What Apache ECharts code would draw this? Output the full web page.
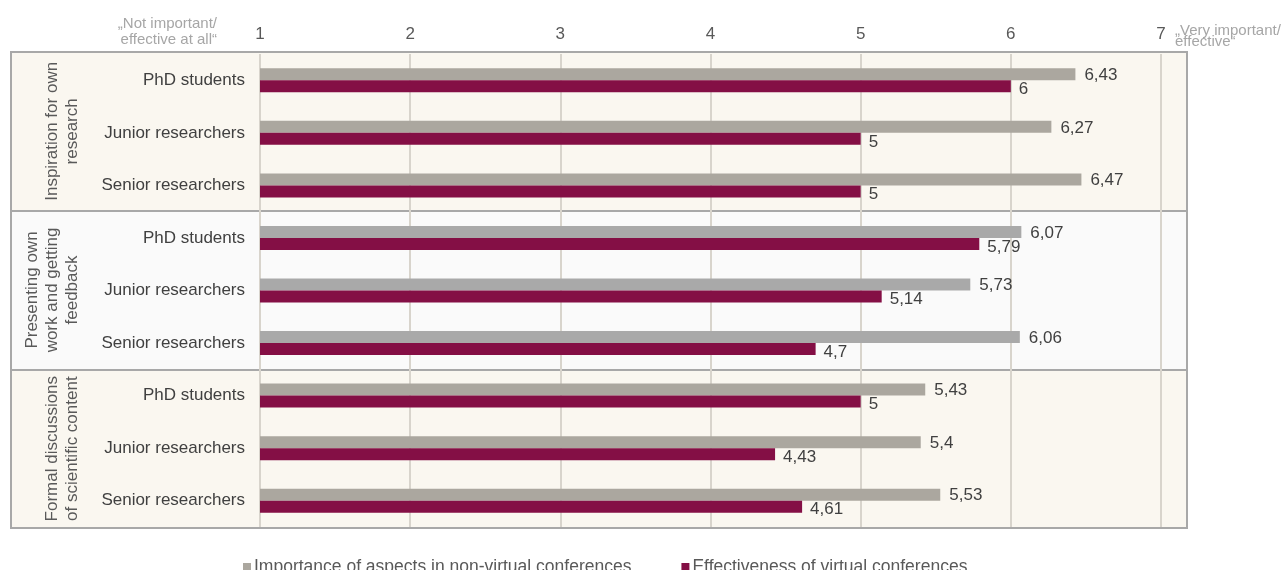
<!DOCTYPE html>
<html>
<head>
<meta charset="utf-8">
<script src="https://cdn.jsdelivr.net/npm/echarts@6/dist/echarts.min.js"></script>
<style>
  html, body { margin: 0; padding: 0; background: #ffffff; }
  #chart { width: 1285px; height: 570px; }
</style>
</head>
<body>
<div id="chart"></div>
<script>
// Rating scale 1–7, three aspects × three career stages
const sections = [
  'Inspiration for own\nresearch',
  'Presenting own\nwork and getting\nfeedback',
  'Formal discussions\nof scientific content'
];
const rowLabels = [
  'PhD students', 'Junior researchers', 'Senior researchers',
  'PhD students', 'Junior researchers', 'Senior researchers',
  'PhD students', 'Junior researchers', 'Senior researchers'
];
const rowIds = ['r0', 'r1', 'r2', 'r3', 'r4', 'r5', 'r6', 'r7', 'r8'];
const importanceValues = [6.43, 6.27, 6.47, 6.07, 5.73, 6.06, 5.43, 5.4, 5.53];
const effectivenessValues = [6, 5, 5, 5.79, 5.14, 4.7, 5, 4.43, 4.61];
const scaleTicks = ['1', '2', '3', '4', '5', '6', '7'];
const scaleLow = '\u201eNot important/\neffective at all\u201c';
const scaleHigh = '\u201eVery important/\neffective\u201c';
const seriesNames = ['Importance of aspects in non-virtual conferences', 'Effectiveness of virtual conferences'];

const FONT = 'Liberation Sans, Arial, sans-serif';
const fmt = v => String(v).replace('.', ',');

const chart = echarts.init(document.getElementById('chart'), null, { renderer: 'canvas' });

chart.setOption({
  animation: false,
  textStyle: { fontFamily: FONT },
  grid: [
    // outer framed panel with section bands
    { left: 11, right: 98, top: 52, bottom: 42, show: true, borderColor: '#a8a8a8', borderWidth: 2, backgroundColor: 'transparent', containLabel: false },
    // plotting area for the bars
    { left: 260, right: 124, top: 54, bottom: 43, containLabel: false }
  ],
  xAxis: [
    { gridIndex: 0, type: 'value', min: 0, max: 1, show: false, splitLine: { show: false } },
    {
      gridIndex: 1, type: 'value', position: 'top', min: 1, max: 7, interval: 1,
      axisLine: { show: false }, axisTick: { show: false },
      axisLabel: {
        margin: 11, fontSize: 17, color: '#595959', fontFamily: FONT,
        formatter: v => scaleTicks[Math.round(v) - 1]
      },
      splitLine: { show: true, lineStyle: { color: '#d8d4cc', width: 2 } }
    }
  ],
  yAxis: [
    {
      gridIndex: 0, type: 'category', data: sections, inverse: true, z: -1,
      axisLine: { show: false }, axisTick: { show: false },
      splitArea: { show: true, interval: 0, areaStyle: { color: ['#faf7f0', '#fafafa'] } },
      splitLine: { show: true, interval: 0, lineStyle: { color: '#a8a8a8', width: 2 } },
      axisLabel: {
        inside: true, interval: 0, rotate: 90, margin: 71, fontSize: 17, lineHeight: 20,
        color: '#595959', fontFamily: FONT, align: 'center', verticalAlign: 'bottom'
      }
    },
    {
      gridIndex: 1, type: 'category', data: rowIds, inverse: true,
      axisLine: { show: false }, axisTick: { show: false },
      axisLabel: {
        interval: 0, margin: 15, fontSize: 17, color: '#404040', fontFamily: FONT,
        formatter: (v, i) => rowLabels[i]
      }
    }
  ],
  legend: {
    left: 238, top: 553, itemWidth: 8, itemHeight: 8, itemGap: 50, icon: 'rect',
    textStyle: { fontSize: 17.5, color: '#595959', fontFamily: FONT, padding: [0, 0, 0, -2] },
    data: seriesNames
  },
  graphic: [
    {
      type: 'text', right: 1285 - 217, top: 16,
      style: { text: scaleLow, fill: '#a6a6a6', font: '15px ' + FONT, textAlign: 'right', lineHeight: 16 }
    },
    {
      type: 'text', left: 1175, top: 23,
      style: { text: scaleHigh, fill: '#a6a6a6', font: '15px ' + FONT, textAlign: 'left', lineHeight: 11 }
    }
  ],
  series: [
    {
      name: seriesNames[0], type: 'bar', xAxisIndex: 1, yAxisIndex: 1,
      data: importanceValues, barWidth: 12, barGap: '0%',
      itemStyle: {
        color: p => (p.dataIndex >= 3 && p.dataIndex <= 5) ? '#a9a9a9' : '#aba79f'
      },
      label: {
        show: true, position: 'right', distance: 9, fontSize: 17, color: '#404040',
        fontFamily: FONT, formatter: p => fmt(p.value), offset: [0, 1]
      }
    },
    {
      name: seriesNames[1], type: 'bar', xAxisIndex: 1, yAxisIndex: 1,
      data: effectivenessValues, barWidth: 12, barGap: '0%',
      itemStyle: { color: '#840f45' },
      label: {
        show: true, position: 'right', distance: 8, fontSize: 17, color: '#404040',
        fontFamily: FONT, formatter: p => fmt(p.value), offset: [0, 3]
      }
    }
  ],
  color: ['#aba79f', '#840f45']
});
</script>
</body>
</html>
